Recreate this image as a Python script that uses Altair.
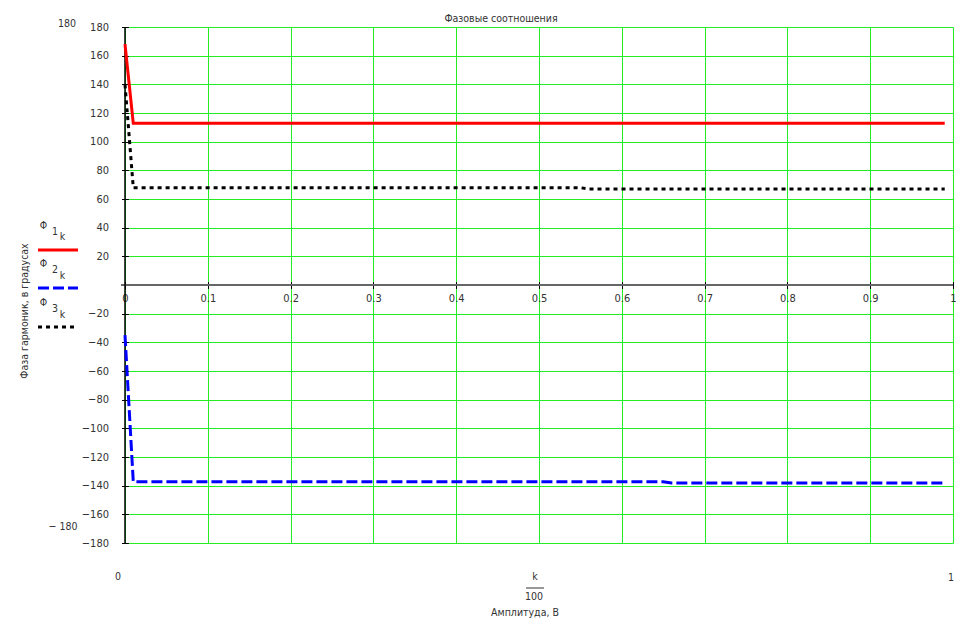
import altair as alt
import pandas as pd

# ---------------- data ----------------
k = list(range(100))
x_vals = [i / 100 for i in k]

phi1 = [168.0,
        112.8, 112.8, 112.8, 112.8, 112.8, 112.8, 112.8, 112.8, 112.8,
        112.8, 112.8, 112.8, 112.8, 112.8, 112.8, 112.8, 112.8, 112.8, 112.8,
        112.8, 112.8, 112.8, 112.8, 112.8, 112.8, 112.8, 112.8, 112.8, 112.8,
        112.8, 112.8, 112.8, 112.8, 112.8, 112.8, 112.8, 112.8, 112.8, 112.8,
        112.8, 112.8, 112.8, 112.8, 112.8, 112.8, 112.8, 112.8, 112.8, 112.8,
        112.8, 112.8, 112.8, 112.8, 112.8, 112.8, 112.8, 112.8, 112.8, 112.8,
        112.8, 112.8, 112.8, 112.8, 112.8, 112.8, 112.8, 112.8, 112.8, 112.8,
        112.8, 112.8, 112.8, 112.8, 112.8, 112.8, 112.8, 112.8, 112.8, 112.8,
        112.8, 112.8, 112.8, 112.8, 112.8, 112.8, 112.8, 112.8, 112.8, 112.8,
        112.8, 112.8, 112.8, 112.8, 112.8, 112.8, 112.8, 112.8, 112.8, 112.8]

phi2 = [-35.0,
        -137.3, -137.3, -137.3, -137.3, -137.3, -137.3, -137.3, -137.3, -137.3,
        -137.3, -137.3, -137.3, -137.3, -137.3, -137.3, -137.3, -137.3, -137.3, -137.3,
        -137.3, -137.3, -137.3, -137.3, -137.3, -137.3, -137.3, -137.3, -137.3, -137.3,
        -137.3, -137.3, -137.3, -137.3, -137.3, -137.3, -137.3, -137.3, -137.3, -137.3,
        -137.3, -137.3, -137.3, -137.3, -137.3, -137.3, -137.3, -137.3, -137.3, -137.3,
        -137.3, -137.3, -137.3, -137.3, -137.3, -137.3, -137.3, -137.3, -137.3, -137.3,
        -137.3, -137.3, -137.3, -137.3, -137.3, -137.3, -138.1, -138.1, -138.1, -138.1,
        -138.1, -138.1, -138.1, -138.1, -138.1, -138.1, -138.1, -138.1, -138.1, -138.1,
        -138.1, -138.1, -138.1, -138.1, -138.1, -138.1, -138.1, -138.1, -138.1, -138.1,
        -138.1, -138.1, -138.1, -138.1, -138.1, -138.1, -138.1, -138.1, -138.1, -138.1]

phi3 = [140.0,
        67.9, 67.9, 67.9, 67.9, 67.9, 67.9, 67.9, 67.9, 67.9,
        67.9, 67.9, 67.9, 67.9, 67.9, 67.9, 67.9, 67.9, 67.9, 67.9,
        67.9, 67.9, 67.9, 67.9, 67.9, 67.9, 67.9, 67.9, 67.9, 67.9,
        67.9, 67.9, 67.9, 67.9, 67.9, 67.9, 67.9, 67.9, 67.9, 67.9,
        67.9, 67.9, 67.9, 67.9, 67.9, 67.9, 67.9, 67.9, 67.9, 67.9,
        67.9, 67.9, 67.9, 67.9, 67.9, 67.9, 67.0, 67.0, 67.0, 67.0,
        67.0, 67.0, 67.0, 67.0, 67.0, 67.0, 67.0, 67.0, 67.0, 67.0,
        67.0, 67.0, 67.0, 67.0, 67.0, 67.0, 67.0, 67.0, 67.0, 67.0,
        67.0, 67.0, 67.0, 67.0, 67.0, 67.0, 67.0, 67.0, 67.0, 67.0,
        67.0, 67.0, 67.0, 67.0, 67.0, 67.0, 67.0, 67.0, 67.0, 67.0]

series_names = ["Φ1", "Φ2", "Φ3"]
series_colors = ["#ff0000", "#0000ff", "#000000"]
series_dash = [[1, 0], [11, 4], [4, 4]]

x_ticks = [0, 0.1, 0.2, 0.3, 0.4, 0.5, 0.6, 0.7, 0.8, 0.9, 1]
y_ticks = [-180, -160, -140, -120, -100, -80, -60, -40, -20, 0,
           20, 40, 60, 80, 100, 120, 140, 160, 180]

title_text = "Фазовые соотношения"
y_title = "Фаза гармоник, в градусах"
x_title = "Амплитуда, В"

# ---------------- build ----------------
rows = []
for name, vals in zip(series_names, [phi1, phi2, phi3]):
    for xv, v in zip(x_vals, vals):
        rows.append({"x": xv, "v": v, "s": name})
df = pd.DataFrame(rows)

W, H = 828, 516
FONT = "'Liberation Sans Narrow', 'Arial Narrow', 'DejaVu Sans Condensed', sans-serif"
TXT = "#333333"
GREEN = "#22ee22"
one = alt.Data(values=[{"a": 0}])

lines = alt.Chart(df).mark_line(strokeWidth=3, clip=False).encode(
    x=alt.X("x:Q",
            scale=alt.Scale(domain=[0, 1], nice=False, zero=False),
            axis=alt.Axis(values=x_ticks, title=None, grid=True, gridColor=GREEN,
                          gridWidth=1, domain=False, ticks=True, tickSize=7,
                          tickColor="black", offset=-261.5, labelPadding=4,
                          labelOverlap=False, labelFlush=False, format="~g",
                          labelExpr="datum.value == 0 ? '\u00a0\u00a0\u00a00' : datum.label",
                          labelFont=FONT, labelFontSize=11, labelColor=TXT)),
    y=alt.Y("v:Q",
            scale=alt.Scale(domain=[-180, 180], nice=False, zero=False),
            axis=alt.Axis(values=y_ticks, title=None, grid=True, gridColor=GREEN,
                          gridWidth=1, domain=False, ticks=True, tickSize=7,
                          tickColor="black", offset=-3.5, labelPadding=13,
                          labelOverlap=False,
                          labelExpr="datum.value == 0 ? '' : datum.label",
                          labelFont=FONT, labelFontSize=11, labelColor=TXT)),
    color=alt.Color("s:N", scale=alt.Scale(domain=series_names, range=series_colors),
                    legend=None),
    strokeDash=alt.StrokeDash("s:N", scale=alt.Scale(domain=series_names, range=series_dash),
                              legend=None),
)

zero_line = alt.Chart(one).mark_rule(color="#666666", strokeWidth=2).encode(
    x=alt.value(-4), x2=alt.value(W), y=alt.value(H / 2))
y_line = alt.Chart(one).mark_rule(color="black", strokeWidth=1.5).encode(
    x=alt.value(0), y=alt.value(0), y2=alt.value(H))


def txt(t, x, y, size=10.5, align="center", angle=0):
    return alt.Chart(one).mark_text(text=t, font=FONT, fontSize=size, color=TXT,
                                    align=align, baseline="middle", angle=angle).encode(
        x=alt.value(x), y=alt.value(y))


def leg_rule(color, dash, y):
    return alt.Chart(one).mark_rule(color=color, strokeWidth=3, strokeDash=dash).encode(
        x=alt.value(-87), x2=alt.value(-47), y=alt.value(y))


layers = [zero_line, y_line, lines,
          txt(title_text, 376, -8, 10.5),
          txt("180", -58, -3, 10.5),
          txt("\u2212 180", -62, 500, 10.5),
          txt("0", -7, 550, 10.5),
          txt("1", 826, 551, 10.5),
          txt("k", 410, 550, 10.5),
          alt.Chart(one).mark_rule(color=TXT, strokeWidth=1).encode(
              x=alt.value(401), x2=alt.value(419), y=alt.value(561)),
          txt("100", 409, 570, 10.5),
          txt(x_title, 400, 586, 10.5),
          txt(y_title, -100, 284, 10.5, angle=270),
          # legend
          txt("Φ", -81.5, 199, 10.5), txt("1", -70, 204.5, 10.5), txt("k", -62.5, 209.5, 10.5),
          leg_rule("#ff0000", [1, 0], 223),
          txt("Φ", -81.5, 237, 10.5), txt("2", -70, 243, 10.5), txt("k", -62.5, 248.5, 10.5),
          leg_rule("#0000ff", [11, 4], 261),
          txt("Φ", -81.5, 276, 10.5), txt("3", -70, 282, 10.5), txt("k", -62.5, 288, 10.5),
          leg_rule("#000000", [4, 4], 300),
          ]

chart = alt.layer(*layers).properties(
    width=W, height=H,
    padding={"left": 117, "top": 19, "right": 12, "bottom": 77},
    autosize=alt.AutoSizeParams(type="none"),
).configure_view(stroke=None)

chart.save("out.html", embed_options={"renderer": "svg", "actions": False})
